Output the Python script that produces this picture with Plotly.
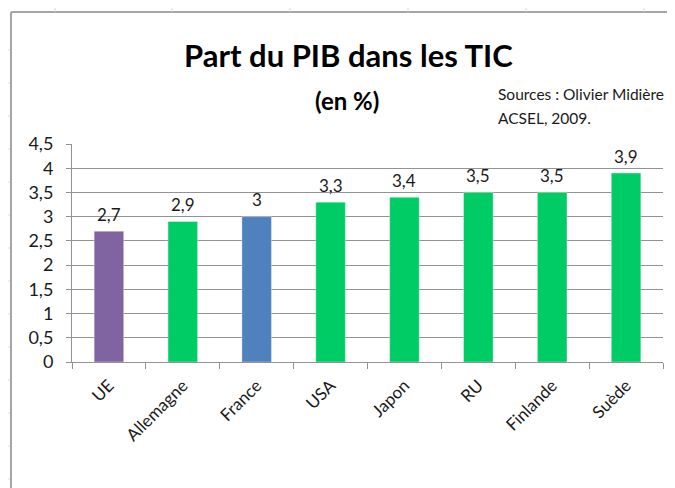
import plotly.graph_objects as go

categories = ["UE", "Allemagne", "France", "USA", "Japon", "RU", "Finlande", "Suède"]
values = [2.7, 2.9, 3.0, 3.3, 3.4, 3.5, 3.5, 3.9]
bar_colors = ["#8064A2", "#00CC66", "#4F81BD", "#00CC66", "#00CC66", "#00CC66", "#00CC66", "#00CC66"]
y_ticks = [0, 0.5, 1, 1.5, 2, 2.5, 3, 3.5, 4, 4.5]

OFF = 8  # page body margin offset
W, H = 675 - OFF, 488 - OFF
L, R, T, B = 72 - OFF, 663 - OFF, 144 - OFF, 362 - OFF  # plot area in figure pixels

def fmt(v):
    s = ("%g" % v)
    return s.replace(".", ",")

FONT = "Lato, Carlito, Calibri, 'Open Sans', sans-serif"

fig = go.Figure()
fig.add_trace(go.Bar(
    x=categories, y=values,
    marker=dict(color=bar_colors, line=dict(color="rgba(255,255,255,0.35)", width=1)),
    width=0.4,
    hoverinfo="x+y",
))

annotations = []
for c, v in zip(categories, values):
    annotations.append(dict(x=c, y=v, xref="x", yref="y", text=fmt(v), showarrow=False,
                            yshift=17, yanchor="middle",
                            font=dict(family=FONT, size=17, color="#1a1a1a")))

def px_x(p):
    # p is a reference-image pixel x
    return (p - OFF - L) / (R - L)

def px_y(p):
    return (B - (p - OFF)) / (B - T)

annotations += [
    dict(text="<b>Part du PIB dans les TIC</b>", xref="paper", yref="paper",
         x=px_x(348), y=px_y(55), xanchor="center", yanchor="middle", showarrow=False,
         font=dict(family=FONT, size=31, color="#000000")),
    dict(text="<b>(en %)</b>", xref="paper", yref="paper",
         x=px_x(347), y=px_y(100), xanchor="center", yanchor="middle", showarrow=False,
         font=dict(family=FONT, size=24, color="#000000")),
    dict(text="Sources : Olivier Midière", xref="paper", yref="paper",
         x=px_x(496), y=px_y(94), xanchor="left", yanchor="middle", showarrow=False,
         font=dict(family=FONT, size=15.5, color="#1a1a1a")),
    dict(text="ACSEL, 2009.", xref="paper", yref="paper",
         x=px_x(496), y=px_y(118), xanchor="left", yanchor="middle", showarrow=False,
         font=dict(family=FONT, size=15.5, color="#1a1a1a")),
]

shapes = []
frame_col = "#A6A6A6"
shapes.append(dict(type="line", xref="paper", yref="paper", x0=px_x(11), x1=px_x(11),
                   y0=px_y(12), y1=px_y(490), line=dict(color=frame_col, width=2)))
shapes.append(dict(type="line", xref="paper", yref="paper", x0=px_x(11), x1=px_x(677),
                   y0=px_y(12), y1=px_y(12), line=dict(color=frame_col, width=2)))
for tx in [55, 172, 290, 408, 526, 644]:
    shapes.append(dict(type="line", xref="paper", yref="paper", x0=px_x(tx), x1=px_x(tx),
                       y0=px_y(8), y1=px_y(12), line=dict(color="#D9D9D9", width=1)))
for ty in [50, 83, 116, 149, 182, 215, 248, 281, 314, 347, 380, 413, 446, 479]:
    shapes.append(dict(type="line", xref="paper", yref="paper", x0=px_x(5), x1=px_x(10),
                       y0=px_y(ty), y1=px_y(ty), line=dict(color="#D9D9D9", width=1)))

fig.update_layout(
    width=W, height=H,
    margin=dict(l=L, r=W - R, t=T, b=H - B, pad=0),
    paper_bgcolor="white", plot_bgcolor="white",
    separators=", ",
    showlegend=False,
    annotations=annotations,
    shapes=shapes,
    font=dict(family=FONT, color="#1a1a1a"),
)
fig.update_yaxes(
    range=[0, 4.5], tickvals=y_ticks, ticktext=[fmt(v) for v in y_ticks],
    showgrid=True, gridcolor="#939393", gridwidth=1,
    showline=True, linecolor="#939393", linewidth=1,
    ticks="outside", ticklen=5, tickcolor="#939393",
    ticklabelstandoff=9,
    tickfont=dict(family=FONT, size=18, color="#1a1a1a"),
    zeroline=False, fixedrange=True,
)
fig.update_xaxes(
    showline=True, linecolor="#939393", linewidth=1,
    ticks="outside", ticklen=6, tickcolor="#939393", tickson="boundaries",
    tickangle=-45, ticklabelstandoff=6,
    tickfont=dict(family=FONT, size=17, color="#1a1a1a"),
    fixedrange=True,
)

fig.write_html("out.html")
